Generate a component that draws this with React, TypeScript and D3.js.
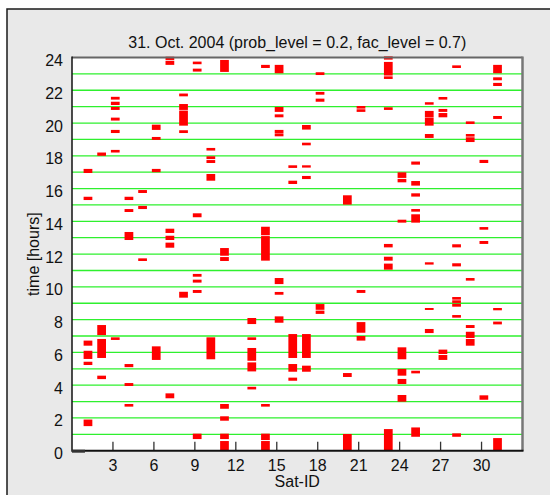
import React from "react";
import * as d3 from "d3";

// satellite ids on the x axis
const satellites = [
  1, 2, 3, 4, 5, 6, 7, 8, 9, 10, 11, 12, 13, 14, 15, 16,
  17, 18, 19, 20, 21, 22, 23, 24, 25, 26, 27, 28, 29, 30, 31, 32,
];

// [start, end] in hours, one list per satellite (same order as above)
const windows: [number, number][][] = [
  [[16.95, 17.2], [15.3, 15.5], [6.41, 6.72], [5.6, 6.1], [5.23, 5.43], [1.5, 1.9]],
  [[18.0, 18.2], [7.06, 7.67], [5.66, 6.82], [4.37, 4.58]],
  [[21.43, 21.6], [21.1, 21.3], [20.8, 20.98], [20.15, 20.33], [19.39, 19.58], [18.2, 18.36], [6.76, 6.92]],
  [[15.3, 15.5], [14.57, 14.75], [12.86, 13.35], [5.1, 5.29], [3.95, 4.13], [2.69, 2.85]],
  [[15.73, 15.91], [14.75, 14.94], [11.58, 11.74]],
  [[19.58, 19.9], [18.97, 19.15], [17.0, 17.2], [5.54, 6.37]],
  [[23.85, 24.05], [23.55, 23.8], [13.29, 13.55], [12.86, 13.12], [12.39, 12.7], [3.2, 3.5]],
  [[21.63, 21.8], [20.8, 21.16], [19.84, 20.76], [19.39, 19.56], [9.34, 9.7]],
  [[23.59, 23.75], [23.14, 23.32], [14.25, 14.49], [10.62, 10.79], [10.26, 10.44], [9.63, 9.81], [0.71, 1.04]],
  [[18.32, 18.48], [17.8, 17.97], [17.56, 17.74], [16.48, 16.89], [5.58, 6.92]],
  [[23.12, 23.85], [11.9, 12.37], [11.58, 11.82], [2.56, 2.85], [1.83, 2.1], [0.71, 1.04], [0, 0.59]],
  [],
  [[7.73, 8.1], [6.76, 6.92], [5.49, 6.27], [4.84, 5.39], [3.74, 3.9]],
  [[23.36, 23.55], [13.15, 13.67], [11.6, 13.1], [2.69, 2.85], [0.65, 1.04], [0, 0.59]],
  [[23.04, 23.55], [20.68, 20.98], [20.35, 20.53], [19.39, 19.58], [19.19, 19.37], [10.17, 10.54], [9.52, 9.69], [7.81, 8.2]],
  [[17.26, 17.42], [16.28, 16.48], [5.66, 7.12], [4.82, 5.29], [4.27, 4.46]],
  [[19.6, 19.88], [18.64, 18.8], [17.28, 17.42], [16.58, 16.77], [5.66, 7.12], [4.82, 5.19]],
  [[22.93, 23.1], [21.73, 21.9], [21.3, 21.49], [8.6, 8.95], [8.35, 8.55]],
  [],
  [[15.02, 15.59], [4.5, 4.74], [0, 1.02]],
  [[20.88, 21.04], [20.68, 20.84], [9.63, 9.81], [7.2, 7.85], [6.72, 7.0]],
  [],
  [[23.87, 24.07], [22.9, 23.73], [22.69, 22.85], [20.8, 20.96], [12.41, 12.62], [11.6, 11.84], [11.05, 11.42], [0, 1.32]],
  [[16.65, 16.99], [16.38, 16.59], [13.92, 14.1], [5.58, 6.31], [4.58, 4.99], [4.07, 4.38], [2.99, 3.4]],
  [[17.46, 17.65], [16.18, 16.46], [15.51, 15.71], [14.59, 14.75], [13.92, 14.43], [4.72, 4.88], [0.85, 1.42]],
  [[21.12, 21.27], [20.35, 20.74], [19.84, 20.33], [19.09, 19.33], [11.36, 11.5], [8.59, 8.71], [7.18, 7.43]],
  [[21.43, 21.59], [20.68, 20.86], [20.35, 20.61], [5.9, 6.17], [5.54, 5.84]],
  [[23.36, 23.52], [12.41, 12.6], [11.25, 11.44], [9.22, 9.38], [9.02, 9.18], [8.79, 8.97], [8.12, 8.28], [0.85, 1.06]],
  [[19.94, 20.1], [19.17, 19.33], [18.84, 19.13], [10.38, 10.54], [7.49, 7.67], [6.88, 7.26], [6.41, 6.82]],
  [[17.56, 17.75], [13.49, 13.65], [12.62, 12.8], [3.11, 3.38]],
  [[23.04, 23.55], [22.61, 22.79], [22.26, 22.45], [20.25, 20.43], [8.57, 8.71], [7.71, 7.88], [0, 0.77]],
  [],
];

const xTicks = [3, 6, 9, 12, 15, 18, 21, 24, 27, 30];
const yTicks = [0, 2, 4, 6, 8, 10, 12, 14, 16, 18, 20, 22, 24];
const gridHours = [1, 2, 3, 4, 5, 6, 7, 8, 9, 10, 11, 12, 13, 14, 15, 16, 17, 18, 19, 20, 21, 22, 23];

const title = "31. Oct. 2004 (prob_level = 0.2, fac_level = 0.7)";

const App = () => {
  const width = 550;
  const height = 495;
  const left = 72;
  const right = 522.5;
  const top = 57.5;
  const bottom = 450.7;
  const font = "'Liberation Sans', Arial, sans-serif";

  const x = d3.scaleLinear().domain([0, 33]).range([left, right]);
  const y = d3.scaleLinear().domain([0, 24]).range([bottom, top]);

  return (
    <svg
      width={width}
      height={height}
      style={{ position: "absolute", left: 0, top: 0 }}
      fontFamily={font}
    >
      <rect x={0} y={0} width={width} height={height} fill="#ffffff" />
      {/* outer frame */}
      <rect x={7} y={9} width={580} height={520} fill="#e9e9e9" stroke="#1a1a1a" strokeWidth={1.5} />

      <text x={(left + right) / 2} y={48} textAnchor="middle" fontSize={16} fill="#111">
        {title}
      </text>

      {/* plot area */}
      <rect x={left} y={top} width={right - left} height={bottom - top} fill="#ffffff" />

      {/* hourly grid */}
      {gridHours.map((h) => (
        <line key={h} x1={left} x2={right} y1={y(h)} y2={y(h)} stroke="#2ef02e" strokeWidth={1.3} />
      ))}

      {/* visibility windows */}
      {satellites.map((s, i) =>
        windows[i].map(([a, b], j) => (
          <rect
            key={`${s}-${j}`}
            x={x(s - 0.15)}
            y={y(b)}
            width={x(s + 0.49) - x(s - 0.15)}
            height={y(a) - y(b)}
            fill="#ff0000"
          />
        ))
      )}

      {/* x ticks */}
      {xTicks.map((t) => (
        <g key={t}>
          <line x1={x(t)} x2={x(t)} y1={bottom} y2={bottom - 9} stroke="#333" strokeWidth={1.3} />
          <text x={x(t)} y={471} textAnchor="middle" fontSize={16} fill="#111">
            {t}
          </text>
        </g>
      ))}

      {/* borders */}
      <line x1={left} x2={right} y1={top} y2={top} stroke="#666" strokeWidth={2} />
      <line x1={right} x2={right} y1={top - 1} y2={bottom} stroke="#777" strokeWidth={2.5} />
      <line x1={left} x2={left} y1={top - 1} y2={bottom + 1} stroke="#111" strokeWidth={1.5} />
      <line x1={left} x2={right + 1} y1={bottom} y2={bottom} stroke="#111" strokeWidth={2} />
      <line x1={x(0)} x2={x(0.95)} y1={bottom + 0.5} y2={bottom + 0.5} stroke="#333" strokeWidth={3} />

      {/* y labels */}
      {yTicks.map((t) => (
        <text key={t} x={63} y={y(t) + 8.5} textAnchor="end" fontSize={16} fill="#111">
          {t}
        </text>
      ))}

      <text x={(left + right) / 2} y={487} textAnchor="middle" fontSize={16} fill="#111">
        Sat-ID
      </text>
      <text
        transform={`translate(39,${(top + bottom) / 2}) rotate(-90)`}
        textAnchor="middle"
        fontSize={16}
        fill="#111"
      >
        time [hours]
      </text>
    </svg>
  );
};

export default App;
